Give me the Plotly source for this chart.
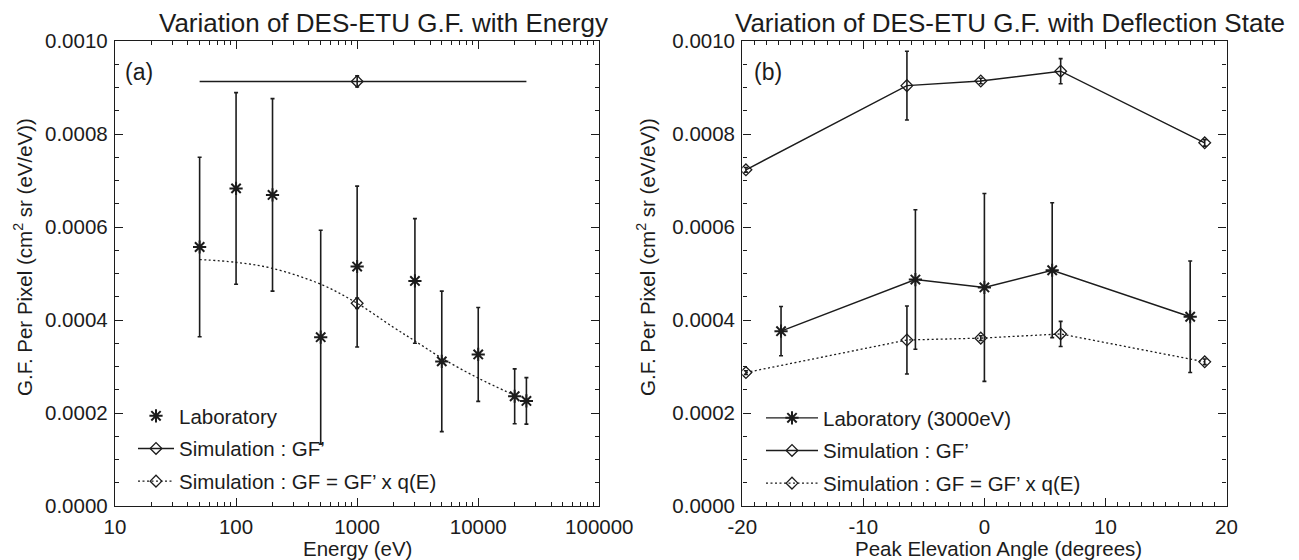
import plotly.graph_objects as go

# ---------------- data: panel (a) ----------------
lab_energy = [50, 100, 200, 500, 1000, 3000, 5000, 10000, 20000, 25000]
lab_gf = [0.000557, 0.000683, 0.000669, 0.000363, 0.000515, 0.000484, 0.000311, 0.000326, 0.000236, 0.000226]
lab_err = [0.000193, 0.000206, 0.000207, 0.000230, 0.000173, 0.000134, 0.000151, 0.000101, 0.000059, 0.000050]

gfp_span_energy = [50, 25000]          # extent of the GF' line
gfp_point_energy = [1000]
gfp_point_value = [0.000913]
gfp_point_err = [0.000012]

curve_energy = [50, 100, 200, 500, 1000, 2000, 3000, 5000, 10000, 20000]
curve_gf = [0.000530, 0.000524, 0.000511, 0.000477, 0.000436, 0.000384, 0.000355, 0.000318, 0.000275, 0.000238]
curve_point_energy = [1000]
curve_point_value = [0.000436]
curve_point_err = [0.000011]

energy_tick_vals = [10, 100, 1000, 10000, 100000]
energy_tick_text = ["10", "100", "1000", "10000", "100000"]

# ---------------- data: panel (b) ----------------
angle_lab = [-16.8, -5.7, 0.0, 5.6, 17.0]
gf_lab = [0.000376, 0.000487, 0.000470, 0.000507, 0.000407]
err_lab = [0.000053, 0.000150, 0.000202, 0.000145, 0.000120]

angle_sim = [-19.7, -6.4, -0.3, 6.3, 18.2]
gf_prime_b = [0.000723, 0.000904, 0.000914, 0.000935, 0.000781]
err_prime_b = [0.000005, 0.000074, 0.000006, 0.000027, 0.000007]
gf_q_b = [0.000287, 0.000357, 0.000361, 0.000370, 0.000310]
err_q_b = [0.000004, 0.000073, 0.000005, 0.000027, 0.000006]

angle_tick_vals = [-20, -10, 0, 10, 20]
angle_tick_text = ["-20", "-10", "0", "10", "20"]
gf_tick_vals = [0.0, 0.0002, 0.0004, 0.0006, 0.0008, 0.0010]

# minor log ticks (2..9 within each decade)
energy_minor_vals = [m * 10 ** e for e in range(1, 5) for m in range(2, 10)]

# ---------------- styling / layout helpers ----------------
W, H = 1299, 560
PLOT_TOP, PLOT_BOT = 41, 506
INK = "#1c1c1c"
FONT = "Liberation Sans, Arial, Helvetica, sans-serif"
FS = 20.5


def xp(px):
    return px / W


def yp(py):
    return (PLOT_BOT - py) / (PLOT_BOT - PLOT_TOP)


err_style = dict(type="data", color=INK, thickness=1.6, width=2)
diamond = dict(symbol="diamond-open", size=9, color=INK, line=dict(color=INK, width=1.3))
star = dict(symbol="asterisk-open", size=11, color=INK, line=dict(color=INK, width=2))
DOT = "2px,2.5px"

fig = go.Figure()

# ---- panel (a) ----
fig.add_trace(go.Scatter(
    x=lab_energy, y=lab_gf, mode="markers", marker=star,
    error_y=dict(array=lab_err, **err_style),
    name="Laboratory", legend="legend", legendgroup="a1",
    xaxis="x", yaxis="y"))
fig.add_trace(go.Scatter(
    x=gfp_span_energy, y=gfp_point_value * len(gfp_span_energy), mode="lines",
    line=dict(color=INK, width=1.4), showlegend=False, hoverinfo="skip",
    xaxis="x", yaxis="y"))
fig.add_trace(go.Scatter(
    x=gfp_point_energy, y=gfp_point_value, mode="lines+markers",
    line=dict(color=INK, width=1.4), marker=diamond,
    error_y=dict(array=gfp_point_err, **err_style),
    name="Simulation : GF\u2019", legend="legend", legendgroup="a2",
    xaxis="x", yaxis="y"))
fig.add_trace(go.Scatter(
    x=curve_energy, y=curve_gf, mode="lines", line_shape="spline",
    line=dict(color=INK, width=1.3, dash=DOT), showlegend=False, hoverinfo="skip",
    xaxis="x", yaxis="y"))
fig.add_trace(go.Scatter(
    x=curve_point_energy, y=curve_point_value, mode="lines+markers",
    line=dict(color=INK, width=1.3, dash=DOT), marker=diamond,
    error_y=dict(array=curve_point_err, **err_style),
    name="Simulation : GF = GF\u2019 x q(E)", legend="legend", legendgroup="a3",
    xaxis="x", yaxis="y"))

# ---- panel (b) ----
fig.add_trace(go.Scatter(
    x=angle_lab, y=gf_lab, mode="lines+markers",
    line=dict(color=INK, width=1.4), marker=star,
    error_y=dict(array=err_lab, **err_style),
    name="Laboratory (3000eV)", legend="legend2", legendgroup="b1",
    xaxis="x2", yaxis="y2"))
fig.add_trace(go.Scatter(
    x=angle_sim, y=gf_prime_b, mode="lines+markers",
    line=dict(color=INK, width=1.4), marker=diamond,
    error_y=dict(array=err_prime_b, **err_style),
    name="Simulation : GF\u2019", legend="legend2", legendgroup="b2",
    xaxis="x2", yaxis="y2"))
fig.add_trace(go.Scatter(
    x=angle_sim, y=gf_q_b, mode="lines+markers",
    line=dict(color=INK, width=1.3, dash=DOT), marker=diamond,
    error_y=dict(array=err_q_b, **err_style),
    name="Simulation : GF = GF\u2019 x q(E)", legend="legend2", legendgroup="b3",
    xaxis="x2", yaxis="y2"))

axis_common = dict(
    showline=True, linecolor=INK, linewidth=1.4, mirror="allticks",
    ticks="inside", ticklen=8, tickwidth=1.3, tickcolor=INK,
    showgrid=False, zeroline=False, automargin=False,
    tickfont=dict(family=FONT, size=FS, color=INK),
)
minor_common = dict(ticks="inside", ticklen=4, tickwidth=1.1, tickcolor=INK, showgrid=False)

yaxis_common = dict(
    axis_common, range=[0, 0.0010], tickmode="array", tickvals=gf_tick_vals,
    tickformat=".4f", ticklabelstandoff=2,
    minor=dict(minor_common, dtick=0.00005, tickmode="linear", tick0=0),
)

fig.update_layout(
    template="none",
    width=W, height=H,
    margin=dict(l=0, r=0, t=PLOT_TOP, b=H - PLOT_BOT, pad=0, autoexpand=False),
    paper_bgcolor="white", plot_bgcolor="white",
    font=dict(family=FONT, size=FS, color=INK),
    xaxis=dict(
        axis_common, type="log", range=[1, 5], domain=[xp(115), xp(599.3)],
        tickmode="array", tickvals=energy_tick_vals, ticktext=energy_tick_text,
        ticklabelstandoff=2, anchor="y",
        minor=dict(minor_common, tickmode="array", tickvals=energy_minor_vals),
    ),
    yaxis=dict(yaxis_common, domain=[0, 1], anchor="x"),
    xaxis2=dict(
        axis_common, range=[-20, 20], domain=[xp(742.3), xp(1226.5)],
        tickmode="array", tickvals=angle_tick_vals, ticktext=angle_tick_text,
        ticklabelstandoff=2, anchor="y2",
        minor=dict(minor_common, dtick=1, tickmode="linear", tick0=0),
    ),
    yaxis2=dict(yaxis_common, domain=[0, 1], anchor="x2"),
    legend=dict(
        x=xp(133), y=yp(396), xanchor="left", yanchor="top",
        bgcolor="rgba(0,0,0,0)", font=dict(family=FONT, size=FS, color=INK),
        itemwidth=36, tracegroupgap=3, traceorder="grouped",
    ),
    legend2=dict(
        x=xp(761), y=yp(398), xanchor="left", yanchor="top",
        bgcolor="rgba(0,0,0,0)", font=dict(family=FONT, size=FS, color=INK),
        itemwidth=52, tracegroupgap=3, traceorder="grouped",
    ),
    showlegend=True,
)

title_font = dict(family=FONT, size=26, color=INK)
label_font = dict(family=FONT, size=FS, color=INK)
panel_font = dict(family=FONT, size=23, color=INK)
annotations = [
    dict(text="Variation of DES-ETU G.F. with Energy", x=xp(383), y=yp(23), font=title_font),
    dict(text="Variation of DES-ETU G.F. with Deflection State", x=xp(1010), y=yp(23), font=title_font),
    dict(text="Energy (eV)", x=xp(357), y=yp(548), font=label_font),
    dict(text="Peak Elevation Angle (degrees)", x=xp(998), y=yp(548), font=label_font),
    dict(text="G.F. Per Pixel (cm<sup>2</sup> sr (eV/eV))", x=xp(23), y=yp(257),
         textangle=-90, font=label_font),
    dict(text="G.F. Per Pixel (cm<sup>2</sup> sr (eV/eV))", x=xp(646), y=yp(257),
         textangle=-90, font=label_font),
    dict(text="(a)", x=xp(139), y=yp(72), font=panel_font),
    dict(text="(b)", x=xp(768), y=yp(72), font=panel_font),
]
for a in annotations:
    a.update(xref="paper", yref="paper", showarrow=False, xanchor="center", yanchor="middle")
fig.update_layout(annotations=annotations)

fig.write_html(
    "out.html",
    config={"displayModeBar": False},
    post_script="document.body.style.margin='0px';document.body.style.padding='0px';",
)
